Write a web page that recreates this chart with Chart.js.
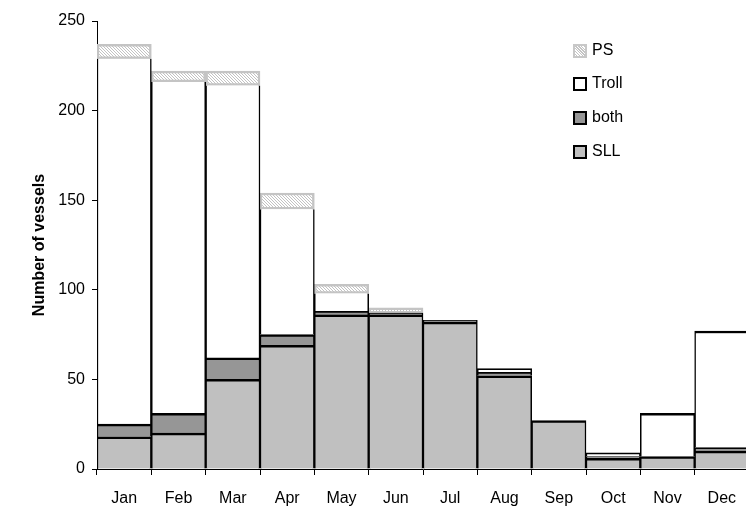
<!DOCTYPE html>
<html>
<head>
<meta charset="utf-8">
<script src="https://cdn.jsdelivr.net/npm/chart.js@4.4.0/dist/chart.umd.min.js"></script>
<style>
  html, body { margin: 0; padding: 0; background: #fff; overflow: hidden; }
  #wrap { position: relative; width: 746px; height: 512px; overflow: hidden; }
  #box { position: absolute; left: 0; top: 0; width: 752px; height: 512px; }
  #legend { position: absolute; left: 573px; top: 42px; font: 16px "Liberation Sans", Arial, sans-serif; color: #000; }
  .item { position: absolute; left: 0; height: 18px; white-space: nowrap; }
  .sw { position: absolute; left: 0; top: 2px; width: 10px; height: 10px; border: 2px solid #000; }
  .lbl { position: absolute; left: 19px; top: -1px; }
</style>
</head>
<body>
<div id="wrap">
  <div id="box"><canvas id="vessels_graph" width="752" height="512"></canvas></div>
  <div id="legend">
    <div class="item" style="top:0px"><div class="sw" style="border-color:#c8c8c8;background:repeating-linear-gradient(45deg,#fff 0 1px,#c4c4c4 1px 2px)"></div><span class="lbl">PS</span></div>
    <div class="item" style="top:33px"><div class="sw" style="background:#fff"></div><span class="lbl">Troll</span></div>
    <div class="item" style="top:67px"><div class="sw" style="background:#969696"></div><span class="lbl">both</span></div>
    <div class="item" style="top:101px"><div class="sw" style="background:#c0c0c0"></div><span class="lbl">SLL</span></div>
  </div>
</div>
<script>
const months = ['Jan', 'Feb', 'Mar', 'Apr', 'May', 'Jun', 'Jul', 'Aug', 'Sep', 'Oct', 'Nov', 'Dec'];
const sll   = [18, 20, 50, 69, 86, 86, 82, 52, 27, 6, 7, 10];
const both  = [7, 11, 12, 6, 2, 1, 1, 2, 0, 1, 0, 2];
const troll = [204, 185, 152, 70, 10, 0, 0, 2, 0, 2, 24, 65];
const ps    = [8, 6, 8, 9, 5, 3, 0, 0, 0, 0, 0, 0];
const yTicks = [0, 50, 100, 150, 200, 250];

function hatch() {
  const c = document.createElement('canvas');
  c.width = 3; c.height = 3;
  const g = c.getContext('2d');
  g.fillStyle = '#ffffff';
  g.fillRect(0, 0, 3, 3);
  g.fillStyle = '#c2c2c2';
  // one pixel per row, shifted -> diagonal hatch
  g.fillRect(0, 0, 1, 1);
  g.fillRect(1, 1, 1, 1);
  g.fillRect(2, 2, 1, 1);
  return g.createPattern(c, 'repeat');
}

const sideBorder = { top: 2.5, left: 1.5, right: 1.5, bottom: 0 };

const ctx = document.getElementById('vessels_graph').getContext('2d');
const myChart = new Chart(ctx, {
  type: 'bar',
  data: {
    labels: months,
    datasets: [
      { label: 'SLL', data: sll, backgroundColor: '#c0c0c0', borderColor: '#000', borderWidth: sideBorder },
      { label: 'both', data: both, backgroundColor: '#969696', borderColor: '#000', borderWidth: sideBorder },
      { label: 'Troll', data: troll, backgroundColor: '#ffffff', borderColor: '#000',
        borderWidth: function (c) { return { top: ps[c.dataIndex] > 0 ? 0 : 2.5, left: 1.5, right: 1.5, bottom: 0 }; } },
      { label: 'PS', data: ps, backgroundColor: hatch(), borderColor: '#c4c4c4', borderWidth: 2.5, borderSkipped: false }
    ]
  },
  options: {
    responsive: false,
    animation: false,
    maintainAspectRatio: false,
    barPercentage: 1,
    categoryPercentage: 1,
    layout: { padding: { top: 21, right: 3, left: 0, bottom: 0 } },
    plugins: { legend: { display: false }, tooltip: { enabled: false } },
    scales: {
      x: {
        stacked: true,
        afterFit: function (s) { s.height = 43; },
        grid: { drawOnChartArea: false, offset: true, tickLength: 6, color: '#000' },
        border: { color: '#000' },
        ticks: { color: '#000', padding: 14, maxRotation: 0, autoSkip: false, font: { family: 'Liberation Sans', size: 16 } }
      },
      y: {
        stacked: true,
        min: 0,
        max: 250,
        afterFit: function (s) { s.width = 97; },
        afterBuildTicks: function (s) { s.ticks = yTicks.map(function (v) { return { value: v }; }); },
        grid: { drawOnChartArea: false, tickLength: 5, color: '#000' },
        border: { color: '#000' },
        ticks: { color: '#000', padding: 7, font: { family: 'Liberation Sans', size: 16 } },
        title: { display: true, text: 'Number of vessels', color: '#000', padding: { top: 30, bottom: 0 },
                 font: { family: 'Liberation Sans', size: 16, weight: 'bold' } }
      }
    }
  }
});
</script>
</body>
</html>
